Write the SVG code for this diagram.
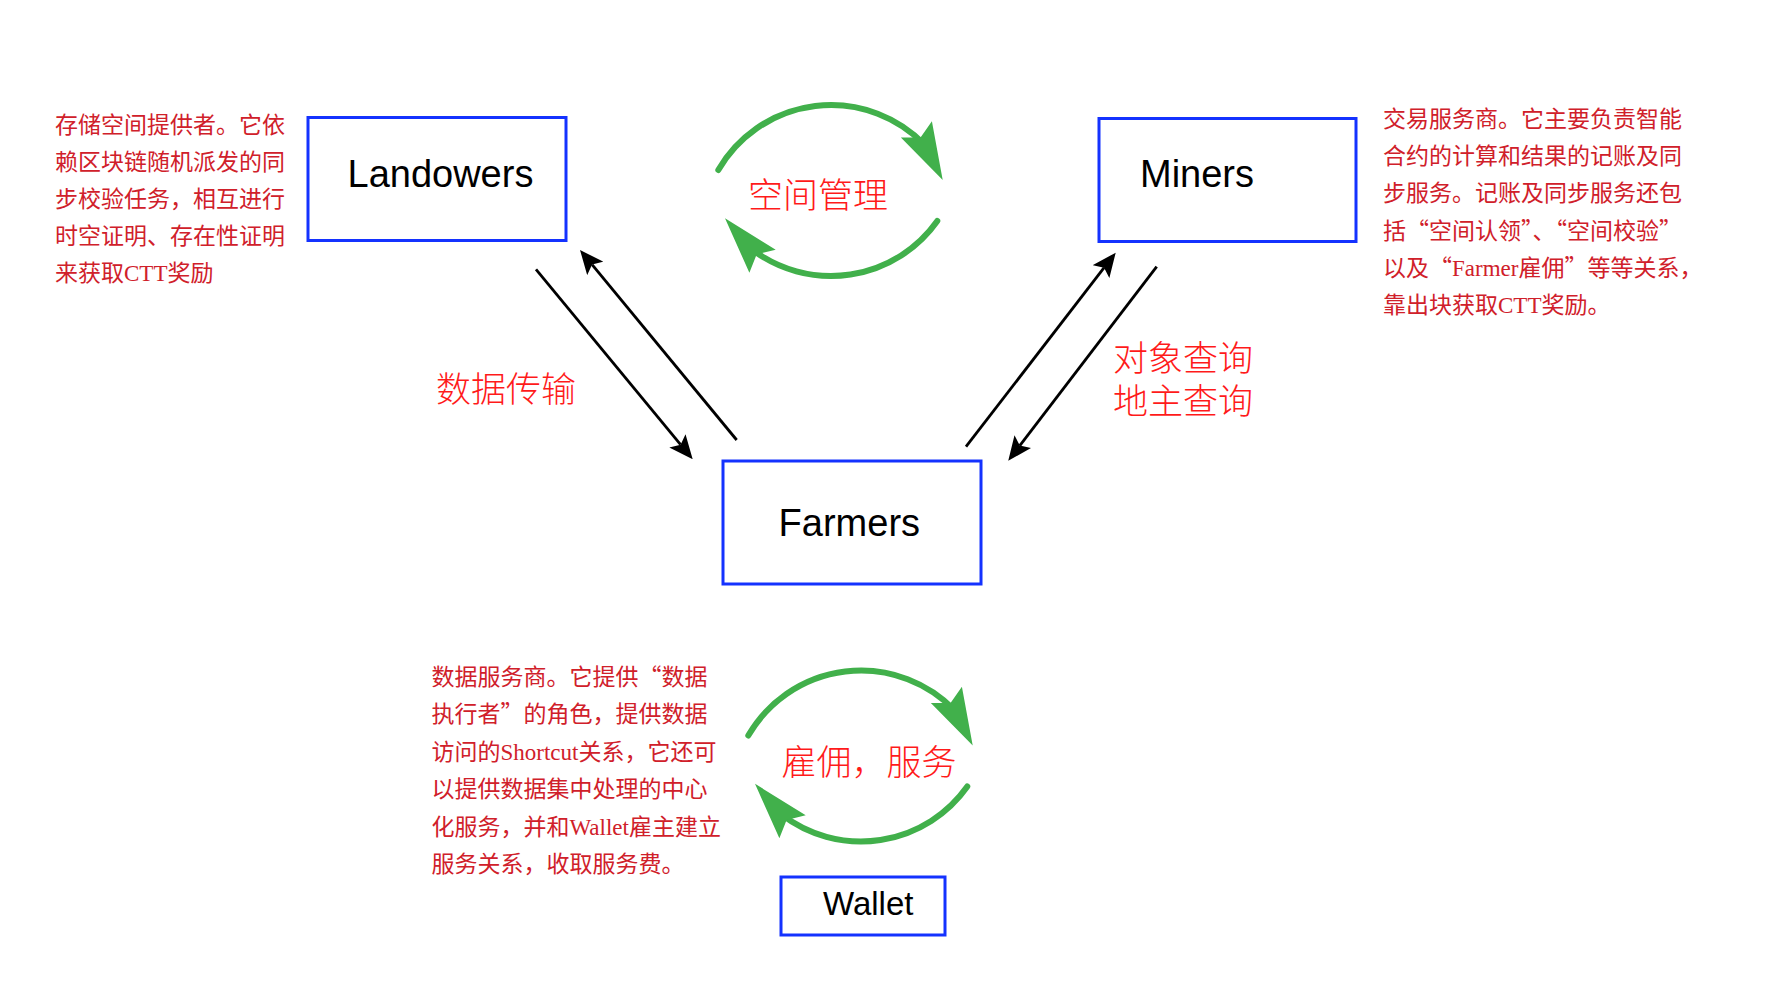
<svg xmlns="http://www.w3.org/2000/svg" xmlns:xlink="http://www.w3.org/1999/xlink" width="1788" height="996" viewBox="0 0 1788 996">
<style>
.box{fill:#fff;stroke:#1432ff;stroke-width:3}
.nt{font-family:"Liberation Sans",Arial,sans-serif;font-size:38px;fill:#000}
.lbl{font-family:"Noto Sans CJK SC",sans-serif;font-size:35px;font-weight:300;fill:#ff1a1a}
.desc{font-family:"Noto Sans CJK SC",sans-serif;font-size:23px;fill:#d0202a}
.lat{font-family:"Liberation Serif","Noto Sans CJK SC",serif}
.conn{stroke:#000;stroke-width:2.8;fill:none}
.arc{stroke:#41b04b;stroke-width:6;fill:none;stroke-linecap:round}
.ah{fill:#41b04b}
</style>
<defs>
<marker id="arr" markerUnits="userSpaceOnUse" markerWidth="24" markerHeight="21" viewBox="0 0 24 21" refX="5" refY="10.5" orient="auto">
<path d="M0,0 L24,10.5 L0,21 L5,10.5 Z" fill="#000"/>
</marker>
<path id="gh" d="M0,0 L-57,-17.5 L-48,0 L-57,17.5 Z"/>
<g id="cycle">
<path class="arc" d="M718.3,170 A130.3,130.3 0 0 1 924.7,144.8"/>
<use xlink:href="#gh" href="#gh" class="ah" transform="translate(942.7,180) rotate(62.5)"/>
<path class="arc" d="M937.3,221 A130.3,130.3 0 0 1 751.7,249.2"/>
<use xlink:href="#gh" href="#gh" class="ah" transform="translate(725,218.3) rotate(228.8)"/>
</g>
</defs>
<rect width="1788" height="996" fill="#fff"/>

<g id="connectors">
<path class="conn" d="M536,269.3 L680.6,444.7" marker-end="url(#arr)"/>
<path class="conn" d="M736.7,440 L592.1,264.6" marker-end="url(#arr)"/>
<path class="conn" d="M966,446.7 L1104.1,267.7" marker-end="url(#arr)"/>
<path class="conn" d="M1156.7,266.7 L1019.8,445.6" marker-end="url(#arr)"/>
</g>

<g id="cycle-space">
<use xlink:href="#cycle" href="#cycle"/>
<text class="lbl" x="748" y="208">空间管理</text>
</g>
<g id="cycle-service">
<use xlink:href="#cycle" href="#cycle" transform="translate(30,565.5)"/>
<text class="lbl" x="781.5" y="775">雇佣，服务</text>
</g>

<g id="label-data">
<text class="lbl" x="436" y="402">数据传输</text>
</g>
<g id="label-query">
<text class="lbl" x="1113" y="371">对象查询<tspan x="1113" dy="43">地主查询</tspan></text>
</g>

<g id="node-landowers">
<rect class="box" x="308" y="117.5" width="258" height="123"/>
<text class="nt" x="347.5" y="186.7">Landowers</text>
</g>
<g id="node-miners">
<rect class="box" x="1099" y="118.5" width="257" height="123"/>
<text class="nt" x="1140" y="186.7">Miners</text>
</g>
<g id="node-farmers">
<rect class="box" x="723" y="461" width="258" height="123"/>
<text class="nt" x="778.6" y="536">Farmers</text>
</g>
<g id="node-wallet">
<rect class="box" x="781" y="877" width="164" height="58"/>
<text class="nt" x="823" y="915" style="font-size:33px">Wallet</text>
</g>

<g id="desc-landowers">
<text class="desc" x="55" y="133">存储空间提供者。它依</text>
<text class="desc" x="55" y="170">赖区块链随机派发的同</text>
<text class="desc" x="55" y="207">步校验任务，相互进行</text>
<text class="desc" x="55" y="244">时空证明、存在性证明</text>
<text class="desc" x="55" y="281">来获取<tspan class="lat">CTT</tspan>奖励</text>
</g>
<g id="desc-miners">
<text class="desc" x="1383" y="127">交易服务商。它主要负责智能</text>
<text class="desc" x="1383" y="164">合约的计算和结果的记账及同</text>
<text class="desc" x="1383" y="201.3">步服务。记账及同步服务还包</text>
<text class="desc" x="1383" y="238.5">括“空间认领”、“空间校验”</text>
<text class="desc" x="1383" y="275.7">以及“<tspan class="lat">Farmer</tspan>雇佣”等等关系，</text>
<text class="desc" x="1383" y="312.8">靠出块获取<tspan class="lat">CTT</tspan>奖励。</text>
</g>
<g id="desc-farmers">
<text class="desc" x="431.5" y="684.5">数据服务商。它提供“数据</text>
<text class="desc" x="431.5" y="722">执行者”的角色，提供数据</text>
<text class="desc" x="431.5" y="759.5">访问的<tspan class="lat">Shortcut</tspan>关系，它还可</text>
<text class="desc" x="431.5" y="797">以提供数据集中处理的中心</text>
<text class="desc" x="431.5" y="834.5">化服务，并和<tspan class="lat">Wallet</tspan>雇主建立</text>
<text class="desc" x="431.5" y="872">服务关系，收取服务费。</text>
</g>
</svg>
